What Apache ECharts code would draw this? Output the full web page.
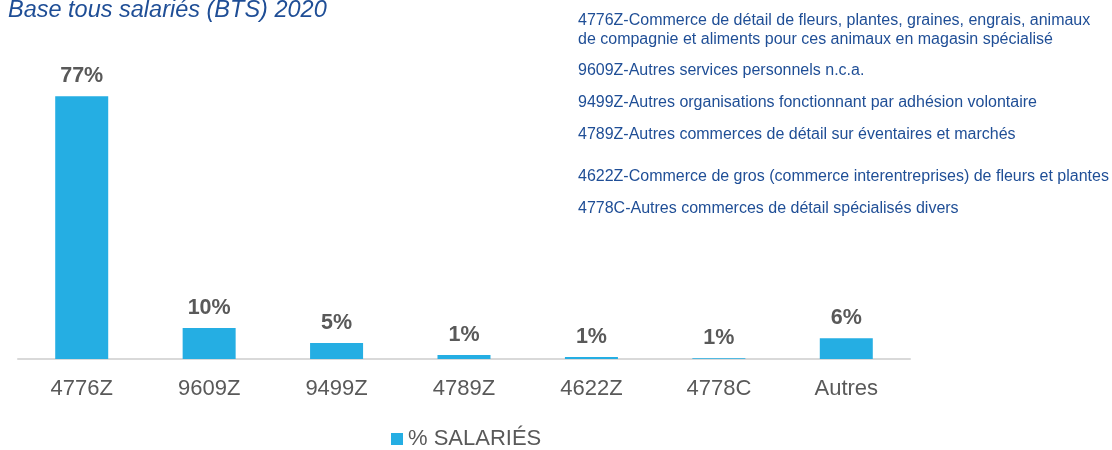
<!DOCTYPE html>
<html>
<head>
<meta charset="utf-8">
<script src="https://cdn.jsdelivr.net/npm/echarts@6/dist/echarts.min.js"></script>
<style>
html, body { margin: 0; padding: 0; background: #fff; }
#chart { width: 1112px; height: 450px; }
</style>
</head>
<body>
<div id="chart"></div>
<script>
// codes NAF
var categories = ['4776Z', '9609Z', '9499Z', '4789Z', '4622Z', '4778C', 'Autres'];
// part des salariés (%)
var salaries = [77, 9.1, 4.7, 1.2, 0.6, 0.2, 6.1];
// étiquettes affichées au-dessus des barres
var barLabels = ['77%', '10%', '5%', '1%', '1%', '1%', '6%'];
// libellés des codes
var notes = [
    '4776Z-Commerce de détail de fleurs, plantes, graines, engrais, animaux\nde compagnie et aliments pour ces animaux en magasin spécialisé',
    '9609Z-Autres services personnels n.c.a.',
    '9499Z-Autres organisations fonctionnant par adhésion volontaire',
    '4789Z-Autres commerces de détail sur éventaires et marchés',
    '4622Z-Commerce de gros (commerce interentreprises) de fleurs et plantes',
    '4778C-Autres commerces de détail spécialisés divers'
];
var notesTop = [11, 61, 93, 125, 167, 199];

var chart = echarts.init(document.getElementById('chart'));

var graphics = notes.map(function (t, i) {
    return {
        type: 'text',
        left: 578,
        top: notesTop[i],
        style: {
            text: t,
            fill: '#1f4e96',
            font: '16px "Liberation Sans", Arial, sans-serif',
            lineHeight: 19
        }
    };
});

var option = {
    animation: false,
    textStyle: { fontFamily: '"Liberation Sans", Arial, sans-serif' },
    title: {
        text: 'Base tous salariés (BTS) 2020',
        left: 3,
        top: -6,
        textStyle: {
            color: '#1f4e96',
            fontSize: 23.5,
            fontStyle: 'italic',
            fontWeight: 'normal'
        }
    },
    legend: {
        data: ['% SALARIÉS'],
        bottom: -5,
        left: 386,
        itemWidth: 12,
        itemHeight: 12,
        itemGap: 4,
        icon: 'rect',
        textStyle: { color: '#595959', fontSize: 22 }
    },
    grid: { left: 18, right: 202, top: 86, bottom: 91, containLabel: false },
    xAxis: {
        type: 'category',
        data: categories,
        axisLine: { lineStyle: { color: '#d9d9d9', width: 2 } },
        axisTick: { show: false },
        axisLabel: { color: '#595959', fontSize: 22, margin: 19 }
    },
    yAxis: {
        type: 'value',
        min: 0,
        max: 80,
        show: false,
        splitLine: { show: false }
    },
    series: [{
        name: '% SALARIÉS',
        type: 'bar',
        data: salaries,
        barWidth: 53,
        itemStyle: { color: '#25aee3' },
        label: {
            show: true,
            position: 'top',
            distance: 9,
            color: '#595959',
            fontSize: 21.5,
            fontWeight: 'bold',
            formatter: function (p) { return barLabels[p.dataIndex]; }
        }
    }],
    graphic: graphics
};

chart.setOption(option);
window.addEventListener('resize', function () { chart.resize(); });
</script>
</body>
</html>
